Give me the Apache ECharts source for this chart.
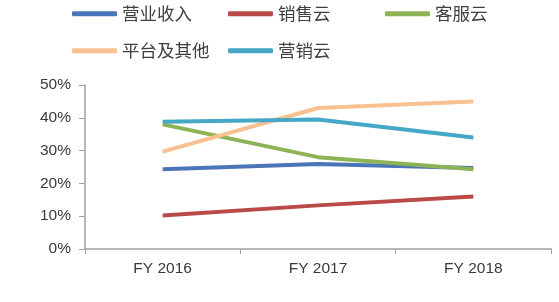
<!DOCTYPE html>
<html><head><meta charset="utf-8">
<script src="https://cdn.jsdelivr.net/npm/echarts@6/dist/echarts.min.js"></script>
<style>html,body{margin:0;padding:0;background:#fff}#c{width:559px;height:302px}</style>
</head><body><div id="c"></div>
<script>
const categories = ['FY 2016', 'FY 2017', 'FY 2018'];
const revenue = [24.3, 25.9, 24.7];
const salesCloud = [10.2, 13.3, 16.0];
const serviceCloud = [38.0, 28.0, 24.3];
const platformOther = [29.7, 43.0, 45.0];
const marketingCloud = [38.8, 39.5, 34.0];
const seriesNames = ['营业收入', '销售云', '客服云', '平台及其他', '营销云'];
const seriesData = [revenue, salesCloud, serviceCloud, platformOther, marketingCloud];
const colors = ['#4a76b8', '#b94a48', '#8db356', '#f9c191', '#45a8c6'];
const legendPos = [[72, 5], [228, 5], [385, 5], [72, 42], [228, 42]];

const chart = echarts.init(document.getElementById('c'));
chart.setOption({
  animation: false,
  textStyle: {fontFamily: 'Noto Sans CJK SC'},
  legend: seriesNames.map((n, i) => ({
    data: [n], left: legendPos[i][0], top: legendPos[i][1], padding: 0,
    icon: 'roundRect', itemWidth: 45, itemHeight: 5, itemGap: 0,
    textStyle: {fontSize: 17.5, color: '#404040', fontFamily: 'Noto Sans CJK SC'}
  })),
  grid: {left: 85, top: 85, right: 8, bottom: 53, containLabel: false},
  xAxis: {
    type: 'category', data: categories, boundaryGap: true,
    axisLine: {lineStyle: {color: '#a0a0a0', width: 1.5}},
    axisTick: {show: true, length: 5, lineStyle: {color: '#a0a0a0'}},
    axisLabel: {fontSize: 15.5, color: '#3a3a3a', margin: 12, fontFamily: 'Liberation Sans'}
  },
  yAxis: {
    type: 'value', min: 0, max: 50, interval: 10,
    axisLine: {show: true, lineStyle: {color: '#a0a0a0', width: 1.5}},
    axisTick: {show: true, length: 6, lineStyle: {color: '#a0a0a0'}},
    splitLine: {show: false},
    axisLabel: {formatter: '{value}%', fontSize: 15.5, color: '#3a3a3a', margin: 14, fontFamily: 'Liberation Sans'}
  },
  series: seriesNames.map((n, i) => ({
    name: n, type: 'line', data: seriesData[i], symbol: 'none',
    lineStyle: {width: 4, color: colors[i]}, itemStyle: {color: colors[i]}
  }))
});
</script></body></html>
